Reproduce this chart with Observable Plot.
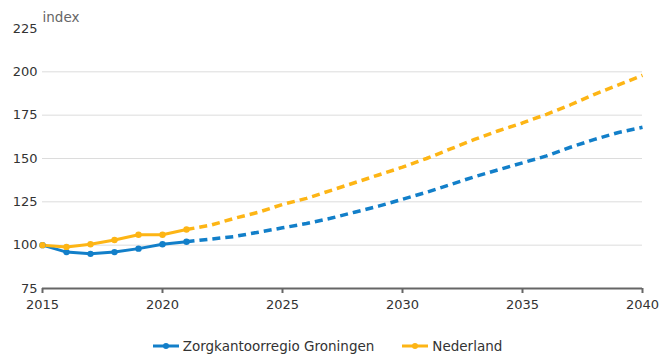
<!DOCTYPE html>
<html>
<head>
<meta charset="utf-8">
<script src="https://cdn.jsdelivr.net/npm/d3@7"></script>
<script src="https://cdn.jsdelivr.net/npm/@observablehq/plot@0.6"></script>
<style>
  body { margin: 0; background: #fff; font-family: "DejaVu Sans", Verdana, sans-serif; }
  #legend { display: flex; justify-content: center; gap: 28px; font-size: 13.5px; color: #333; height: 29px; align-items: center; margin-left: -8px; margin-top: 6px; }
  #legend span { display: inline-flex; align-items: center; gap: 4px; }
</style>
</head>
<body>
<div id="chart"></div>
<div id="legend"></div>
<script>
const years = d3.range(2015, 2041);
const groningen = [100, 96, 95, 96, 98, 100.5, 102, 103.5, 105, 107.5, 110, 112.5, 115.5, 119, 122.5, 126.5, 130.5, 135, 139.5, 143.5, 147.5, 151.5, 156.5, 161, 165, 168];
const nederland = [100, 99, 100.5, 103, 106, 106, 109, 111.5, 115.5, 119, 123.5, 127, 131.5, 136, 140.5, 145, 150, 155.5, 161, 166, 170.5, 175.5, 181, 187, 192.5, 198];
const seriesNames = ["Zorgkantoorregio Groningen", "Nederland"];
const seriesColors = ["#127fc9", "#fdb515"];
const lastObserved = 2021;
const yTicks = [75, 100, 125, 150, 175, 200, 225];
const xTicks = [2015, 2020, 2025, 2030, 2035, 2040];

const rows = [];
[groningen, nederland].forEach((vals, i) => {
  vals.forEach((v, j) => rows.push({series: seriesNames[i], year: years[j], value: v}));
});
const observed = rows.filter(d => d.year <= lastObserved);
const forecast = rows.filter(d => d.year >= lastObserved);

const chart = Plot.plot({
  width: 663,
  height: 325,
  marginLeft: 42,
  marginRight: 21,
  marginTop: 28,
  marginBottom: 37,
  style: {fontFamily: "DejaVu Sans, Verdana, sans-serif", fontSize: "13px", color: "#333"},
  x: {domain: [2015, 2040]},
  y: {domain: [75, 225]},
  color: {domain: seriesNames, range: seriesColors},
  marks: [
    Plot.ruleY([100, 125, 150, 175, 200], {stroke: "#dcdcdc", strokeWidth: 1}),
    Plot.axisY({ticks: yTicks, tickSize: 0, tickPadding: 5, label: null, fill: "#333"}),
    Plot.axisX({ticks: xTicks, tickFormat: d => String(d), tickSize: 5, tickPadding: 6, label: null, stroke: "#666", strokeWidth: 2}),
    Plot.ruleY([75], {stroke: "#666", strokeWidth: 2}),
    Plot.text(["index"], {frameAnchor: "top-left", dy: -16, textAnchor: "start", fill: "#666", fontSize: 13.5}),
    Plot.line(forecast, {x: "year", y: "value", z: "series", stroke: "series", strokeWidth: 3.5, strokeDasharray: "8,5", strokeLinecap: "butt"}),
    Plot.line(observed, {x: "year", y: "value", z: "series", stroke: "series", strokeWidth: 3}),
    Plot.dot(observed, {x: "year", y: "value", fill: "series", r: 3.2})
  ]
});
document.getElementById("chart").appendChild(chart);

const legend = document.getElementById("legend");
seriesNames.forEach((name, i) => {
  const s = document.createElement("span");
  s.innerHTML = `<svg width="26" height="10"><line x1="0" y1="5" x2="26" y2="5" stroke="${seriesColors[i]}" stroke-width="3"/><circle cx="13" cy="5" r="3" fill="${seriesColors[i]}"/></svg>${name}`;
  legend.appendChild(s);
});
</script>
</body>
</html>
